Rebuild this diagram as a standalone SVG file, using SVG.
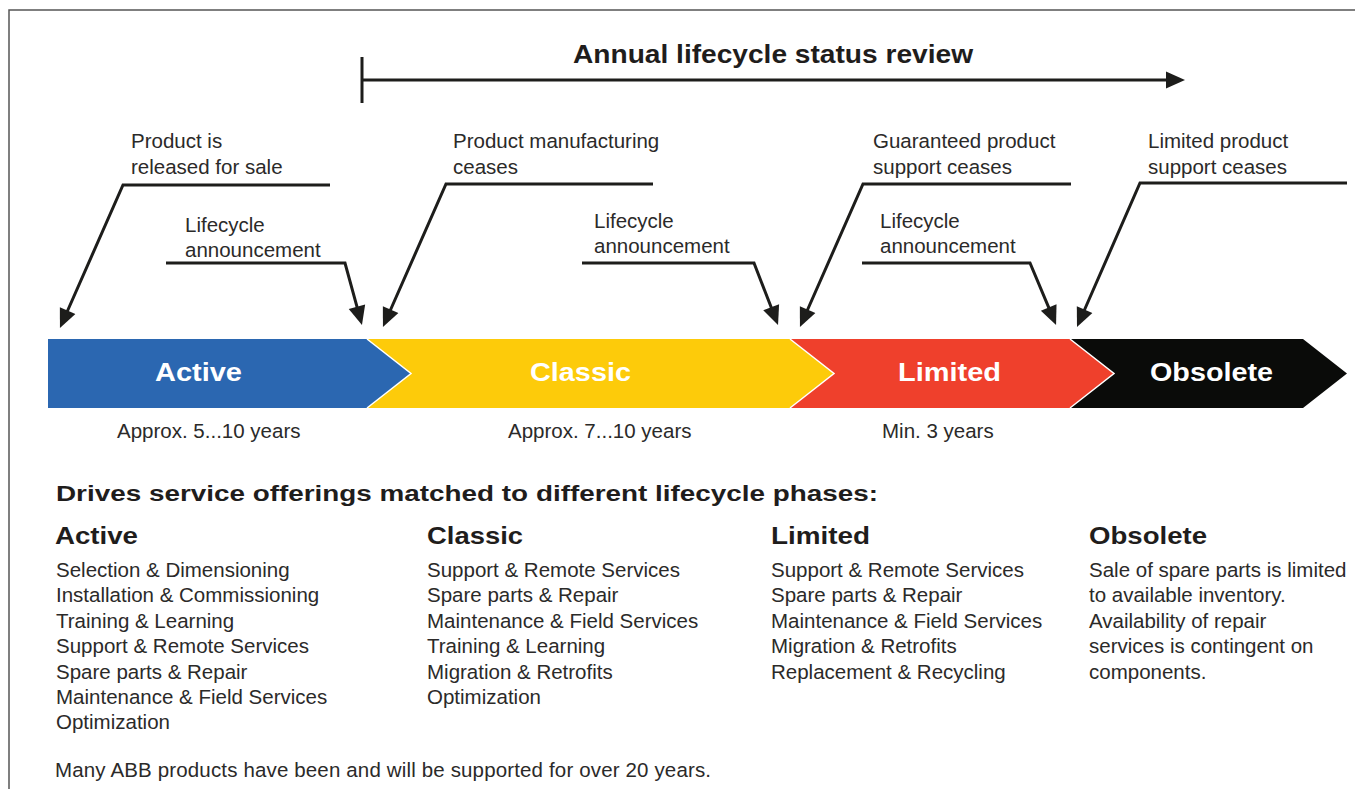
<svg xmlns="http://www.w3.org/2000/svg" width="1355" height="789" viewBox="0 0 1355 789">
<style>
.t{font-family:"Liberation Sans",Arial,sans-serif;fill:#2b2a29;font-size:20.5px}
.b{font-family:"Liberation Sans",Arial,sans-serif;font-weight:bold;fill:#1f1d1c}
.w{font-family:"Liberation Sans",Arial,sans-serif;font-weight:bold;fill:#ffffff;font-size:25px}
.ln{fill:none;stroke:#1d1d1b;stroke-width:3}
.sep{fill:none;stroke:#ffffff;stroke-width:1.5}
</style>
<defs>
<marker id="ah" markerUnits="userSpaceOnUse" markerWidth="20" markerHeight="18" viewBox="0 -9 19 18" refX="7" refY="0" orient="auto">
<path d="M0,-8.5 L19,0 L0,8.5 z" fill="#1d1d1b"/>
</marker>
</defs>
<rect width="1355" height="789" fill="#ffffff"/>
<path d="M9,789 V10 H1355" fill="none" stroke="#555" stroke-width="1.5"/>

<g id="review">
<text class="b" x="573" y="63" font-size="25" textLength="400" lengthAdjust="spacingAndGlyphs">Annual lifecycle status review</text>
</g>

<g id="phases">
<g id="active">
<polygon points="48,339 367,339 411,373.5 367,408 48,408" fill="#2b67b1"/>
<text class="w" x="155" y="381" textLength="87" lengthAdjust="spacingAndGlyphs">Active</text>
</g>
<g id="classic">
<polygon points="367,339 790,339 834,373.5 790,408 367,408 411,373.5" fill="#fdcb0a"/>
<text class="w" x="530" y="381" textLength="101" lengthAdjust="spacingAndGlyphs">Classic</text>
</g>
<g id="limited">
<polygon points="790,339 1070,339 1114,373.5 1070,408 790,408 834,373.5" fill="#ef402c"/>
<text class="w" x="898" y="381" textLength="103" lengthAdjust="spacingAndGlyphs">Limited</text>
</g>
<g id="obsolete">
<polygon points="1070,339 1303,339 1347,373.5 1303,408 1070,408 1114,373.5" fill="#0a0b09"/>
<text class="w" x="1150" y="381" textLength="123" lengthAdjust="spacingAndGlyphs">Obsolete</text>
</g>
<polyline class="sep" points="367,339 411,373.5 367,408"/>
<polyline class="sep" points="790,339 834,373.5 790,408"/>
<polyline class="sep" points="1070,339 1114,373.5 1070,408"/>
</g>

<g id="durations">
<text class="t" x="117" y="438">Approx. 5...10 years</text>
<text class="t" x="508" y="438">Approx. 7...10 years</text>
<text class="t" x="882" y="438">Min. 3 years</text>
</g>

<g id="callouts">
<g id="c-released"><text class="t" x="131" y="148">Product is</text><text class="t" x="131" y="174">released for sale</text></g>
<g id="c-ann1"><text class="t" x="185" y="232">Lifecycle</text><text class="t" x="185" y="257">announcement</text></g>
<g id="c-manuf"><text class="t" x="453" y="148">Product manufacturing</text><text class="t" x="453" y="174">ceases</text></g>
<g id="c-ann2"><text class="t" x="594" y="228">Lifecycle</text><text class="t" x="594" y="253">announcement</text></g>
<g id="c-guar"><text class="t" x="873" y="148">Guaranteed product</text><text class="t" x="873" y="174">support ceases</text></g>
<g id="c-ann3"><text class="t" x="880" y="228">Lifecycle</text><text class="t" x="880" y="253">announcement</text></g>
<g id="c-lim"><text class="t" x="1148" y="148">Limited product</text><text class="t" x="1148" y="174">support ceases</text></g>
</g>

<g id="connectors">
<path class="ln" d="M362,57 V103"/>
<path class="ln" d="M362,80 H1173" marker-end="url(#ah)"/>
<path class="ln" d="M330,185 H123 L64.8,317" marker-end="url(#ah)"/>
<path class="ln" d="M166,263 H345 L358.8,313.4" marker-end="url(#ah)"/>
<path class="ln" d="M653,184 H446 L387.8,316" marker-end="url(#ah)"/>
<path class="ln" d="M582,263 H754 L773.7,313.8" marker-end="url(#ah)"/>
<path class="ln" d="M1071,184 H863 L804.8,316" marker-end="url(#ah)"/>
<path class="ln" d="M862,263 H1030 L1051.4,313.9" marker-end="url(#ah)"/>
<path class="ln" d="M1347,183 H1140 L1081.8,316" marker-end="url(#ah)"/>
</g>

<g id="offerings">
<text class="b" x="56" y="501" font-size="22" textLength="822" lengthAdjust="spacingAndGlyphs">Drives service offerings matched to different lifecycle phases:</text>
<g id="col-active">
<text class="b" x="55" y="544" font-size="24" textLength="83" lengthAdjust="spacingAndGlyphs">Active</text>
<text class="t" x="56" y="577">Selection &amp; Dimensioning</text>
<text class="t" x="56" y="602.4">Installation &amp; Commissioning</text>
<text class="t" x="56" y="627.8">Training &amp; Learning</text>
<text class="t" x="56" y="653.2">Support &amp; Remote Services</text>
<text class="t" x="56" y="678.6">Spare parts &amp; Repair</text>
<text class="t" x="56" y="704">Maintenance &amp; Field Services</text>
<text class="t" x="56" y="729.4">Optimization</text>
</g>
<g id="col-classic">
<text class="b" x="427" y="544" font-size="24" textLength="96" lengthAdjust="spacingAndGlyphs">Classic</text>
<text class="t" x="427" y="577">Support &amp; Remote Services</text>
<text class="t" x="427" y="602.4">Spare parts &amp; Repair</text>
<text class="t" x="427" y="627.8">Maintenance &amp; Field Services</text>
<text class="t" x="427" y="653.2">Training &amp; Learning</text>
<text class="t" x="427" y="678.6">Migration &amp; Retrofits</text>
<text class="t" x="427" y="704">Optimization</text>
</g>
<g id="col-limited">
<text class="b" x="771" y="544" font-size="24" textLength="99" lengthAdjust="spacingAndGlyphs">Limited</text>
<text class="t" x="771" y="577">Support &amp; Remote Services</text>
<text class="t" x="771" y="602.4">Spare parts &amp; Repair</text>
<text class="t" x="771" y="627.8">Maintenance &amp; Field Services</text>
<text class="t" x="771" y="653.2">Migration &amp; Retrofits</text>
<text class="t" x="771" y="678.6">Replacement &amp; Recycling</text>
</g>
<g id="col-obsolete">
<text class="b" x="1089" y="544" font-size="24" textLength="118" lengthAdjust="spacingAndGlyphs">Obsolete</text>
<text class="t" x="1089" y="577">Sale of spare parts is limited</text>
<text class="t" x="1089" y="602.4">to available inventory.</text>
<text class="t" x="1089" y="627.8">Availability of repair</text>
<text class="t" x="1089" y="653.2">services is contingent on</text>
<text class="t" x="1089" y="678.6">components.</text>
</g>
</g>

<g id="footer">
<text class="t" x="55" y="777" textLength="656">Many ABB products have been and will be supported for over 20 years.</text>
</g>
</svg>
